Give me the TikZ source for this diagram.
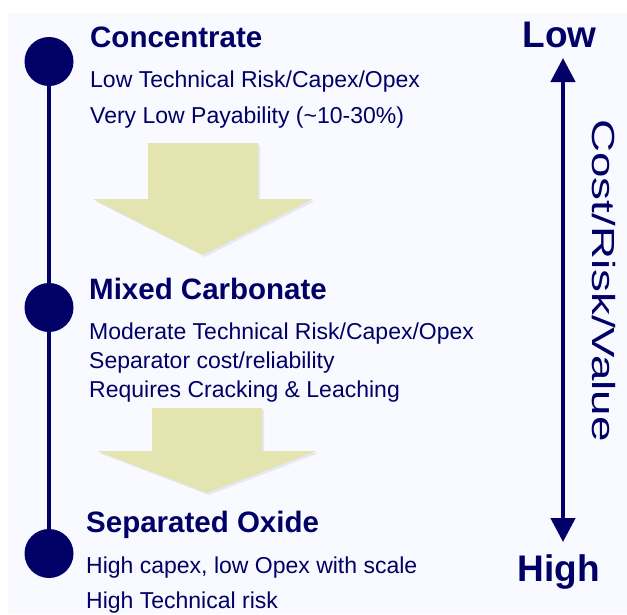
\documentclass[tikz,border=0pt]{standalone}
\usepackage{fontspec}
\setmainfont{Liberation Sans}
\usetikzlibrary{arrows.meta,shadows}
\definecolor{navy}{RGB}{0,0,102}
\definecolor{khaki}{RGB}{228,228,176}
\definecolor{panel}{RGB}{248,250,255}
\definecolor{haze}{RGB}{200,206,235}

\begin{document}
\begin{tikzpicture}[
    x=1pt, y=-1pt,
    every node/.style={inner sep=0pt, text=navy},
    title/.style={anchor=base west, font=\fontsize{29.5}{30}\selectfont\bfseries},
    detail/.style={anchor=base west, font=\fontsize{23}{24}\selectfont},
    ends/.style={anchor=base, font=\fontsize{37}{38}\selectfont\bfseries},
    stage/.style={circle, fill=navy, minimum size=49pt},
    flow/.style={fill=khaki, drop shadow={opacity=0.4, fill=haze,
        shadow xshift=2pt, shadow yshift=-2pt}},
  ]
  \useasboundingbox (0,0) rectangle (627,614);
  \fill[white] (0,0) rectangle (627,614);
  \fill[panel] (8,13) rectangle (627,614);

  % the three stages
  \node[stage] (conc) at (49,61.5) {};
  \node[stage] (mixc) at (49,307.5) {};
  \node[stage] (sepx) at (49,553.5) {};
  \draw[navy, line width=3.7pt] (conc) -- (mixc) -- (sepx);

  % big arrows between stages
  \path[flow] (148,143) -- (258,143) -- (258,199) -- (313,199)
    -- (203,255) -- (93,199) -- (148,199) -- cycle;
  \path[flow] (152,408) -- (262,408) -- (262,451) -- (317,451)
    -- (207,493) -- (97,451) -- (152,451) -- cycle;

  \node[title] (conc-t) at (90,47) {Concentrate};
  \node[detail] (conc-a) at (90,87) {Low Technical Risk/Capex/Opex};
  \node[detail] (conc-b) at (90,123) {Very Low Payability (\textasciitilde10-30\%)};

  \node[title] (mixc-t) at (89,299) {Mixed Carbonate};
  \node[detail] (mixc-a) at (89,339) {Moderate Technical Risk/Capex/Opex};
  \node[detail] (mixc-b) at (89,368) {Separator cost/reliability};
  \node[detail] (mixc-c) at (89,397) {Requires Cracking \& Leaching};

  \node[title] (sepx-t) at (86,532) {Separated Oxide};
  \node[detail] (sepx-a) at (86,573) {High capex, low Opex with scale};
  \node[detail] (sepx-b) at (86,608) {High Technical risk};

  % scale on the right
  \node[ends] (low) at (559.5,47) {Low};
  \node[ends] (high) at (559,581) {High};
  \coordinate (lowtip) at (563,58);
  \coordinate (hightip) at (563,542);
  \draw[navy, line width=4.5pt,
    {Triangle[length=24pt,width=24pt]}-{Triangle[length=24pt,width=24pt]}]
    (lowtip) -- (hightip);
  \node[rotate=-90, anchor=base, font=\fontsize{32}{33}\selectfont] (axis)
    at (592,280.5) {\scalebox{1.43}[1]{Cost/Risk/Value}};
\end{tikzpicture}
\end{document}
